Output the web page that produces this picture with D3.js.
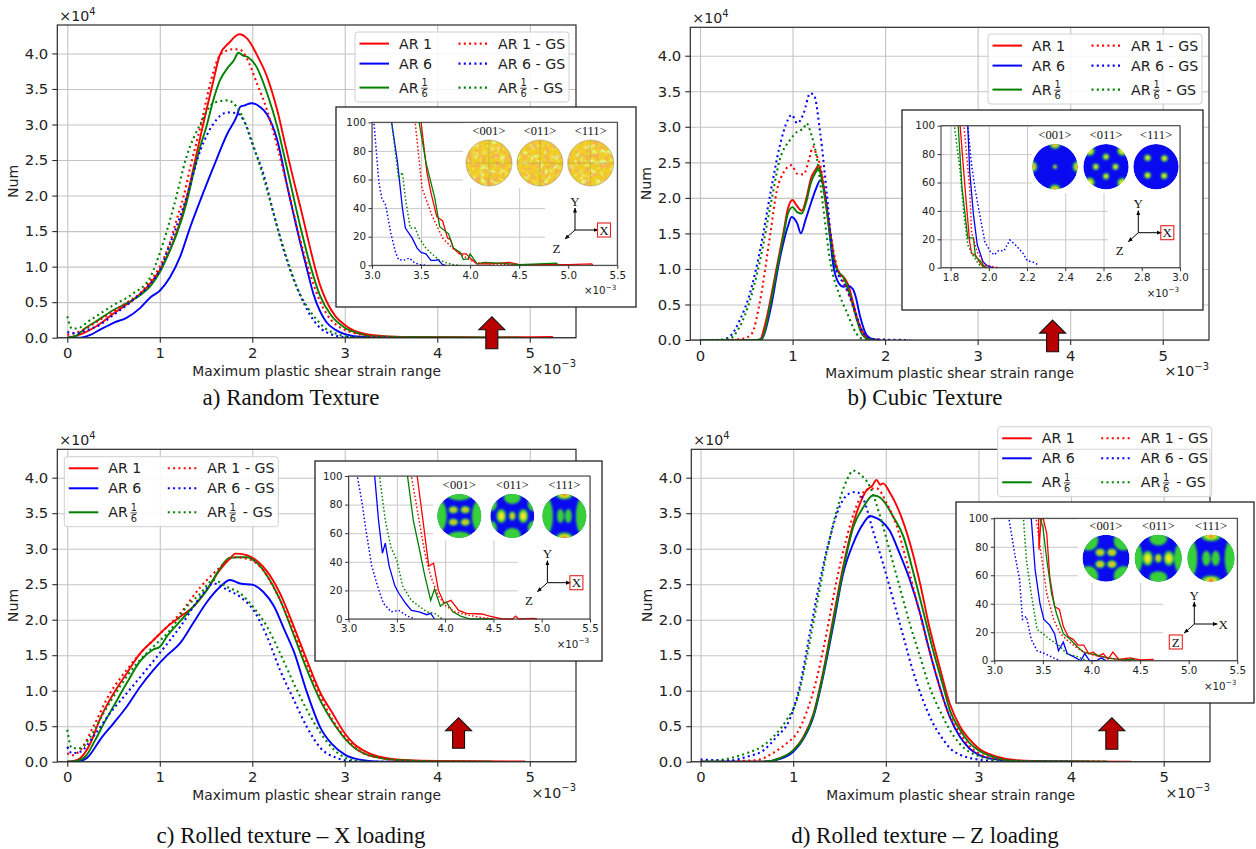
<!DOCTYPE html>
<html>
<head>
<meta charset="utf-8">
<script src="https://cdn.jsdelivr.net/npm/d3@7"></script>
<style>
  body { margin: 0; background: #fff; }
  svg { display: block; }
  svg text { font-family: "DejaVu Sans", sans-serif; fill: #222; }
  svg text.serif { font-family: "Liberation Serif", "DejaVu Serif", serif; fill: #111; }
</style>
</head>
<body>
<svg id="figure" width="1256" height="849"></svg>
<script>
// main plots: x in 1e-3, y in 1e4 ; insets: x in 1e-3, y in counts
const mainXTicks = [0, 1, 2, 3, 4, 5]
const mainYTicks = [0, 0.5, 1, 1.5, 2, 2.5, 3, 3.5, 4]
const insetYTicks = [0, 20, 40, 60, 80, 100]
const insetXTicksHigh = [3, 3.5, 4, 4.5, 5, 5.5]
const insetXTicksLow = [1.8, 2.0, 2.2, 2.4, 2.6, 2.8, 3.0]
const seriesNames = ['AR 1', 'AR 6', 'AR 1/6', 'AR 1 - GS', 'AR 6 - GS', 'AR 1/6 - GS']
const seriesColors = ['#ff0000', '#0000ff', '#008000', '#ff0000', '#0000ff', '#008000']
const poleLabels = ['<001>', '<011>', '<111>']
const captions = ['a) Random Texture', 'b) Cubic Texture', 'c) Rolled texture \u2013 X loading', 'd) Rolled texture \u2013 Z loading']

// a) random texture
const aAR1 = [[0,0],[0.1,0.03],[0.2,0.08],[0.3,0.15],[0.4,0.24],[0.5,0.34],[0.6,0.43],[0.7,0.52],[0.8,0.63],[0.9,0.77],[1.0,0.95],[1.1,1.2],[1.2,1.55],[1.3,2.02],[1.4,2.6],[1.5,3.18],[1.58,3.62],[1.65,3.98],[1.75,4.15],[1.86,4.27],[1.95,4.2],[2.05,3.98],[2.16,3.67],[2.27,3.2],[2.37,2.64],[2.45,2.2],[2.52,1.84],[2.6,1.4],[2.66,1.08],[2.73,0.75],[2.8,0.52],[2.9,0.3],[3.0,0.18],[3.1,0.1],[3.2,0.06],[3.4,0.025],[3.7,0.01],[4.5,0.005],[5.25,0.01]]
const aAR6 = [[0,0],[0.14,0],[0.25,0.04],[0.35,0.11],[0.5,0.21],[0.64,0.28],[0.79,0.42],[0.9,0.57],[1.0,0.66],[1.11,0.85],[1.22,1.14],[1.33,1.56],[1.44,1.94],[1.58,2.4],[1.73,2.87],[1.83,3.11],[1.87,3.25],[1.92,3.27],[1.99,3.3],[2.08,3.25],[2.16,3.14],[2.27,2.78],[2.38,2.12],[2.52,1.33],[2.6,0.92],[2.66,0.62],[2.73,0.38],[2.8,0.22],[2.9,0.11],[3.0,0.05],[3.2,0.01],[3.75,0]]
const aAR16 = [[0,0],[0.1,0.03],[0.17,0.11],[0.3,0.22],[0.5,0.39],[0.65,0.49],[0.79,0.6],[0.9,0.73],[1.0,0.92],[1.1,1.2],[1.18,1.45],[1.29,1.9],[1.37,2.35],[1.44,2.7],[1.5,2.95],[1.58,3.35],[1.65,3.62],[1.73,3.79],[1.8,3.9],[1.85,4.01],[1.9,3.97],[1.95,3.95],[2.05,3.8],[2.16,3.44],[2.27,2.97],[2.38,2.36],[2.52,1.56],[2.62,1.05],[2.73,0.6],[2.85,0.32],[3.0,0.14],[3.15,0.06],[3.3,0.02],[3.6,0.01],[4.9,0]]
const aGS1 = [[0,0.04],[0.17,0.11],[0.35,0.25],[0.5,0.37],[0.65,0.5],[0.79,0.63],[0.9,0.8],[1.0,1.0],[1.1,1.3],[1.18,1.65],[1.26,2.0],[1.33,2.4],[1.44,2.97],[1.55,3.6],[1.62,3.9],[1.69,4.02],[1.8,4.06],[1.87,4.05],[1.94,3.93],[2.05,3.58],[2.16,3.2],[2.27,2.69],[2.38,2.12],[2.52,1.37],[2.6,1.0],[2.66,0.76],[2.73,0.52],[2.8,0.34],[2.9,0.19],[3.0,0.11],[3.15,0.05],[3.3,0.02],[3.6,0.005],[4.45,0]]
const aGS6 = [[0,0.08],[0.1,0.06],[0.2,0.1],[0.35,0.18],[0.5,0.32],[0.71,0.53],[0.9,0.76],[1.0,0.95],[1.09,1.25],[1.18,1.56],[1.29,1.98],[1.44,2.64],[1.58,3.01],[1.73,3.17],[1.83,3.16],[1.91,3.05],[2.01,2.69],[2.12,2.31],[2.23,1.75],[2.34,1.23],[2.45,0.81],[2.56,0.48],[2.66,0.25],[2.74,0.13],[2.85,0.05],[3.0,0.01],[3.5,0]]
const aGS16 = [[0,0.3],[0.05,0.13],[0.1,0.13],[0.25,0.25],[0.5,0.46],[0.71,0.62],[0.9,0.86],[1.0,1.19],[1.15,1.84],[1.29,2.55],[1.44,3.01],[1.58,3.3],[1.73,3.34],[1.83,3.25],[1.94,2.97],[2.05,2.55],[2.16,2.08],[2.27,1.56],[2.38,1.09],[2.48,0.72],[2.59,0.44],[2.7,0.25],[2.8,0.12],[2.9,0.06],[3.0,0.02],[3.3,0],[4.9,0]]

// b) cubic texture
const bAR1 = [[0,0],[0.6,0],[0.65,0.01],[0.7,0.2],[0.76,0.56],[0.83,1.03],[0.9,1.5],[0.95,1.85],[1.0,1.97],[1.04,1.9],[1.1,1.82],[1.15,2.0],[1.2,2.28],[1.25,2.4],[1.28,2.46],[1.31,2.35],[1.36,1.95],[1.41,1.5],[1.45,1.15],[1.5,0.95],[1.55,0.89],[1.6,0.78],[1.65,0.55],[1.7,0.3],[1.77,0.09],[1.84,0.01],[1.95,0]]
const bAR6 = [[0,0],[0.62,0],[0.67,0.02],[0.76,0.42],[0.86,1.13],[0.95,1.6],[0.99,1.73],[1.05,1.64],[1.09,1.5],[1.14,1.69],[1.21,1.97],[1.26,2.15],[1.3,2.25],[1.35,2.06],[1.4,1.5],[1.44,1.05],[1.5,0.8],[1.55,0.75],[1.6,0.76],[1.65,0.72],[1.68,0.62],[1.73,0.33],[1.8,0.07],[1.87,0.01],[1.95,0]]
const bAR16 = [[0,0],[0.62,0],[0.67,0.02],[0.76,0.5],[0.83,0.98],[0.9,1.45],[0.95,1.78],[1.0,1.87],[1.05,1.8],[1.1,1.78],[1.15,1.95],[1.2,2.22],[1.25,2.36],[1.28,2.42],[1.31,2.3],[1.36,1.9],[1.41,1.42],[1.45,1.1],[1.5,0.95],[1.55,0.88],[1.6,0.72],[1.65,0.5],[1.7,0.26],[1.75,0.08],[1.82,0.01],[1.9,0]]
const bGS1 = [[0,0],[0.29,0],[0.47,0.02],[0.56,0.09],[0.65,0.56],[0.76,1.5],[0.83,2.1],[0.9,2.35],[0.99,2.46],[1.05,2.34],[1.12,2.33],[1.18,2.55],[1.22,2.72],[1.26,2.6],[1.31,2.4],[1.36,1.95],[1.41,1.5],[1.48,1.03],[1.55,0.82],[1.59,0.7],[1.69,0.33],[1.77,0.07],[1.85,0.01],[2.05,0]]
const bGS6 = [[0,0],[0.22,0],[0.32,0.05],[0.43,0.28],[0.54,0.66],[0.65,1.27],[0.76,2.06],[0.86,2.72],[0.95,3.1],[0.99,3.17],[1.05,3.05],[1.12,3.19],[1.19,3.47],[1.23,3.45],[1.3,2.9],[1.37,2.06],[1.44,1.13],[1.5,0.9],[1.55,0.8],[1.66,0.47],[1.73,0.19],[1.8,0.05],[1.9,0.01],[2.27,0]]
const bGS16 = [[0,0],[0.14,0],[0.32,0.02],[0.43,0.19],[0.54,0.56],[0.65,1.13],[0.76,1.88],[0.86,2.53],[0.97,2.81],[1.05,2.93],[1.12,2.98],[1.15,3.05],[1.2,2.9],[1.26,2.58],[1.33,1.88],[1.41,1.08],[1.5,0.66],[1.59,0.38],[1.69,0.09],[1.77,0.01],[1.9,0]]

// c) rolled texture, X loading
const cAR1 = [[0,0],[0.07,0.01],[0.14,0.05],[0.25,0.26],[0.35,0.59],[0.5,0.96],[0.64,1.24],[0.79,1.53],[0.93,1.71],[1.08,1.9],[1.22,2.04],[1.36,2.18],[1.51,2.42],[1.65,2.7],[1.75,2.85],[1.82,2.93],[1.94,2.91],[2.05,2.83],[2.16,2.68],[2.3,2.37],[2.45,1.9],[2.59,1.43],[2.74,0.96],[2.86,0.7],[3.0,0.4],[3.1,0.25],[3.2,0.16],[3.3,0.1],[3.46,0.05],[3.7,0.02],[4.0,0.01],[4.95,0.003]]
const cAR6 = [[0,0],[0.1,0],[0.21,0.05],[0.3,0.2],[0.35,0.3],[0.5,0.54],[0.64,0.77],[0.79,1.06],[0.93,1.29],[1.08,1.5],[1.22,1.67],[1.36,1.95],[1.51,2.25],[1.65,2.46],[1.76,2.56],[1.87,2.51],[2.01,2.49],[2.12,2.39],[2.23,2.2],[2.35,1.85],[2.45,1.55],[2.59,0.98],[2.74,0.47],[2.86,0.25],[3.0,0.1],[3.16,0.03],[3.4,0],[3.9,0]]
const cAR16 = [[0,0],[0.1,0.01],[0.2,0.08],[0.3,0.3],[0.4,0.55],[0.5,0.78],[0.64,1.1],[0.79,1.42],[0.93,1.58],[1.0,1.62],[1.08,1.77],[1.22,1.98],[1.36,2.18],[1.51,2.42],[1.65,2.72],[1.75,2.87],[1.85,2.88],[1.94,2.88],[2.05,2.8],[2.16,2.62],[2.3,2.28],[2.45,1.78],[2.59,1.3],[2.74,0.85],[2.86,0.58],[3.0,0.33],[3.1,0.2],[3.2,0.12],[3.35,0.06],[3.6,0.02],[4.0,0.005],[4.6,0]]
const cGS1 = [[0,0.12],[0.05,0.09],[0.14,0.16],[0.28,0.49],[0.46,0.96],[0.64,1.29],[0.82,1.57],[1.0,1.8],[1.22,2.09],[1.44,2.46],[1.62,2.7],[1.8,2.88],[1.94,2.86],[2.09,2.74],[2.23,2.46],[2.38,2.05],[2.52,1.6],[2.66,1.15],[2.8,0.75],[2.9,0.52],[3.0,0.35],[3.1,0.22],[3.2,0.12],[3.4,0.05],[3.7,0.01],[4.5,0]]
const cGS6 = [[0,0.21],[0.05,0.12],[0.14,0.14],[0.28,0.35],[0.46,0.68],[0.64,0.96],[0.82,1.24],[1.0,1.53],[1.22,1.9],[1.44,2.32],[1.58,2.51],[1.73,2.42],[1.87,2.32],[2.01,2.14],[2.16,1.76],[2.3,1.29],[2.45,0.87],[2.59,0.49],[2.74,0.19],[2.9,0.06],[3.0,0.02],[3.2,0],[3.7,0]]
const cGS16 = [[0,0.45],[0.05,0.19],[0.14,0.19],[0.25,0.35],[0.39,0.68],[0.57,1.06],[0.75,1.38],[0.93,1.62],[1.11,1.85],[1.29,2.18],[1.44,2.37],[1.58,2.56],[1.73,2.46],[1.87,2.37],[2.01,2.18],[2.16,1.9],[2.3,1.53],[2.45,1.1],[2.59,0.73],[2.74,0.4],[2.9,0.15],[3.0,0.06],[3.1,0.02],[3.3,0],[3.9,0]]

// d) rolled texture, Z loading
const dAR1 = [[0,0],[0.68,0],[0.86,0.05],[1.0,0.16],[1.11,0.35],[1.22,0.68],[1.32,1.24],[1.43,2.0],[1.54,2.75],[1.65,3.36],[1.72,3.63],[1.79,3.82],[1.85,3.88],[1.9,3.97],[1.94,3.9],[1.97,3.92],[2.04,3.8],[2.14,3.54],[2.26,3.08],[2.37,2.51],[2.47,1.9],[2.58,1.34],[2.69,0.82],[2.8,0.5],[2.9,0.32],[3.0,0.19],[3.2,0.07],[3.41,0.02],[3.8,0.005],[4.65,0]]
const dAR6 = [[0,0],[0.68,0],[0.86,0.04],[1.0,0.14],[1.11,0.32],[1.22,0.64],[1.32,1.18],[1.43,1.9],[1.54,2.65],[1.65,3.08],[1.76,3.36],[1.83,3.46],[1.9,3.43],[1.94,3.4],[2.04,3.26],[2.15,2.93],[2.26,2.56],[2.37,2.09],[2.47,1.57],[2.58,1.06],[2.69,0.63],[2.8,0.35],[2.9,0.19],[3.0,0.1],[3.2,0.03],[3.4,0.01],[4.2,0]]
const dAR16 = [[0,0],[0.68,0],[0.86,0.05],[1.0,0.16],[1.11,0.33],[1.22,0.66],[1.32,1.2],[1.43,1.95],[1.54,2.7],[1.65,3.31],[1.76,3.59],[1.86,3.75],[1.91,3.74],[1.97,3.68],[2.08,3.45],[2.19,3.17],[2.29,2.7],[2.4,2.14],[2.51,1.57],[2.62,1.06],[2.69,0.73],[2.8,0.45],[2.9,0.27],[3.0,0.16],[3.2,0.05],[3.4,0.01],[4.4,0]]
const dGS1 = [[0,0],[0.6,0.02],[0.78,0.12],[0.93,0.26],[1.04,0.4],[1.14,0.68],[1.25,1.15],[1.36,1.81],[1.47,2.56],[1.58,3.17],[1.68,3.59],[1.79,3.83],[1.9,3.85],[2.01,3.64],[2.12,3.31],[2.22,2.84],[2.33,2.28],[2.44,1.71],[2.55,1.2],[2.65,0.77],[2.8,0.4],[2.9,0.22],[3.0,0.12],[3.2,0.04],[3.5,0.01],[4.4,0]]
const dGS6 = [[0,0.03],[0.32,0.02],[0.5,0.07],[0.68,0.16],[0.82,0.35],[0.96,0.59],[1.07,1.06],[1.18,1.81],[1.29,2.56],[1.4,3.17],[1.5,3.59],[1.61,3.78],[1.68,3.8],[1.76,3.69],[1.86,3.26],[1.97,2.79],[2.08,2.28],[2.19,1.76],[2.29,1.29],[2.4,0.87],[2.51,0.54],[2.62,0.31],[2.7,0.18],[2.8,0.1],[3.0,0.03],[3.3,0],[4.0,0]]
const dGS16 = [[0,0],[0.32,0.05],[0.5,0.12],[0.68,0.23],[0.82,0.4],[0.93,0.59],[1.04,0.87],[1.14,1.43],[1.25,2.18],[1.36,2.93],[1.47,3.54],[1.58,3.97],[1.65,4.1],[1.72,4.05],[1.83,3.87],[1.94,3.45],[2.04,2.98],[2.15,2.46],[2.26,1.94],[2.37,1.48],[2.47,1.06],[2.58,0.73],[2.69,0.45],[2.8,0.25],[2.9,0.14],[3.0,0.08],[3.2,0.02],[3.5,0],[4.4,0]]

// insets (tails, counts 0-100)
const iaAR1 = [[3.48,130],[3.5,100],[3.56,65],[3.6,51],[3.66,34],[3.72,31],[3.77,19],[3.8,18],[3.83,12],[3.89,8],[3.96,8],[4.0,5],[4.07,1],[4.2,1],[4.4,2],[4.5,0.5],[5.0,0.5],[5.24,1],[5.25,0]]
const iaAR6 = [[3.18,130],[3.2,100],[3.26,72],[3.31,40],[3.34,26],[3.41,19],[3.46,12],[3.5,9],[3.55,8],[3.6,3.5],[3.65,3.5],[3.67,4],[3.72,0.5],[3.75,0]]
const iaAR16 = [[3.46,130],[3.48,100],[3.55,72],[3.6,58],[3.64,47],[3.69,27],[3.78,22],[3.83,12],[3.9,9],[3.93,4],[3.98,4.5],[4.0,8],[4.07,1],[4.15,2],[4.5,0.5],[4.88,1.5],[4.9,0]]
const iaGS1 = [[3.42,130],[3.44,100],[3.51,54],[3.61,35],[3.72,19],[3.82,12],[3.94,6],[4.05,2],[4.2,1],[4.45,0.5]]
const iaGS6 = [[3.0,130],[3.02,100],[3.07,58],[3.1,47],[3.14,42],[3.19,23],[3.24,9],[3.27,4],[3.32,3.5],[3.38,5],[3.43,2],[3.48,0.5],[3.55,0]]
const iaGS16 = [[3.18,130],[3.2,100],[3.27,61],[3.31,65],[3.34,47],[3.39,26],[3.44,26],[3.48,19],[3.55,12],[3.61,8],[3.68,4],[3.75,2],[3.82,0.5],[3.9,0]]

const ibAR1 = [[1.84,130],[1.85,100],[1.88,49],[1.9,18],[1.91,10],[1.93,9],[1.96,2],[1.99,0]]
const ibAR6 = [[1.88,130],[1.89,100],[1.9,68],[1.92,37],[1.94,16],[1.97,4],[1.99,1.5],[2.02,0]]
const ibAR16 = [[1.83,130],[1.84,100],[1.86,56],[1.89,21],[1.92,21],[1.93,8],[1.96,4],[1.98,0]]
const ibGS1 = [[1.86,130],[1.87,100],[1.9,56],[1.91,25],[1.94,11],[1.98,2],[2.05,0]]
const ibGS6 = [[1.88,130],[1.89,100],[1.91,72],[1.93,54],[1.96,32],[1.98,18],[2.01,11],[2.03,9],[2.05,12],[2.08,12],[2.1,17],[2.11,19.5],[2.14,16],[2.18,10],[2.2,5],[2.23,4],[2.26,2]]
const ibGS16 = [[1.81,130],[1.82,100],[1.85,68],[1.87,37],[1.89,16],[1.92,8],[1.95,2],[1.98,0]]

const icAR1 = [[3.7,130],[3.71,100],[3.77,69],[3.83,37],[3.88,39],[3.93,20],[3.99,11],[4.06,13],[4.14,6],[4.22,4],[4.38,3.5],[4.46,2],[4.59,0],[4.7,0],[4.73,2],[4.76,0],[4.92,0.5],[4.95,0]]
const icAR6 = [[3.26,130],[3.27,100],[3.31,69],[3.35,46],[3.38,53],[3.42,37],[3.48,23],[3.52,18],[3.59,11],[3.65,6],[3.73,5],[3.81,3],[3.85,4],[3.89,0]]
const icAR16 = [[3.6,130],[3.61,100],[3.67,69],[3.73,50],[3.79,30],[3.85,13],[3.89,21],[3.95,9],[4.01,12],[4.08,5],[4.16,2],[4.26,0],[4.5,0]]
const icGS1 = [[3.64,130],[3.65,100],[3.73,69],[3.79,46],[3.85,30],[3.93,16],[4.01,9],[4.1,5],[4.22,3],[4.38,1],[4.5,0]]
const icGS6 = [[3.07,130],[3.09,100],[3.14,81],[3.18,62],[3.24,37],[3.3,23],[3.36,11],[3.44,5],[3.52,6],[3.61,2],[3.69,0]]
const icGS16 = [[3.3,130],[3.32,100],[3.38,69],[3.44,50],[3.5,41],[3.56,23],[3.65,13],[3.73,9],[3.81,5],[3.89,4],[3.97,0]]

const idAR1 = [[3.45,130],[3.46,78],[3.48,98],[3.5,101],[3.54,89],[3.57,59],[3.62,38],[3.67,36],[3.71,24],[3.76,17],[3.81,15],[3.86,11],[3.92,11],[3.97,5],[4.02,6],[4.07,3],[4.12,5],[4.17,1],[4.22,6],[4.28,1],[4.4,2],[4.5,0.5],[4.64,1]]
const idAR6 = [[3.37,130],[3.38,100],[3.42,64],[3.47,40],[3.51,29],[3.57,25],[3.62,19],[3.66,7],[3.71,13],[3.75,5],[3.81,3],[3.89,0],[3.93,5],[3.98,0],[4.05,0],[4.1,2],[4.15,0]]
const idAR16 = [[3.46,130],[3.47,100],[3.5,94],[3.54,71],[3.59,47],[3.64,33],[3.71,19],[3.78,15],[3.85,10],[3.92,6],[3.98,5],[4.05,4],[4.16,2],[4.33,0.5],[4.43,1],[4.45,0]]
const idGS1 = [[3.42,130],[3.43,100],[3.49,71],[3.54,47],[3.61,29],[3.68,19],[3.74,15],[3.83,10],[3.92,6],[4.02,4],[4.16,2],[4.33,0.5],[4.4,0]]
const idGS6 = [[3.13,130],[3.15,100],[3.21,75],[3.26,57],[3.29,29],[3.33,31],[3.38,15],[3.44,7],[3.52,5],[3.61,2],[3.68,0]]
const idGS16 = [[3.29,130],[3.3,100],[3.33,71],[3.38,47],[3.44,22],[3.5,19],[3.57,15],[3.68,10],[3.74,5],[3.85,3],[3.95,0]]

// pole figure spots: [dx, dy, rx, ry, level] in units of the disc radius
const cubicPoles = [
  [[0,0,0.1,0.1,3],[0,-1,0.24,0.22,3],[0,1,0.24,0.22,3],[-1,0,0.22,0.24,3],[1,0,0.22,0.24,3]],
  [[0,-0.44,0.14,0.14,2],[0.42,0,0.14,0.14,2],[-0.45,0,0.14,0.14,2],[0,0.42,0.14,0.14,2],[-0.72,-0.7,0.22,0.22,2],[0.72,-0.7,0.22,0.22,2],[-0.72,0.7,0.22,0.22,2],[0.72,0.72,0.22,0.22,2]],
  [[-0.37,-0.39,0.15,0.15,2],[0.37,-0.37,0.15,0.15,2],[-0.37,0.38,0.15,0.15,2],[0.36,0.4,0.15,0.15,2]]
]
const rolledXPoles = [
  [[-0.95,0,0.38,0.75,1],[0.95,0,0.38,0.75,1],[0,-0.97,0.55,0.26,1],[0,0.97,0.55,0.26,1],[-0.27,-0.28,0.22,0.17,3],[0.27,-0.28,0.22,0.17,3],[-0.27,0.28,0.22,0.17,3],[0.27,0.28,0.22,0.17,3]],
  [[0,0,0.15,0.2,3],[-0.5,0,0.22,0.32,2],[0.5,0,0.22,0.32,2],[0,-0.85,0.38,0.3,1],[0,0.85,0.38,0.3,1],[-0.95,-0.55,0.25,0.32,1],[0.95,-0.55,0.25,0.32,1],[-0.95,0.55,0.25,0.32,1],[0.95,0.55,0.25,0.32,1]],
  [[-0.92,0,0.4,0.95,1],[0.92,0,0.4,0.95,1],[-0.18,0,0.16,0.32,1],[0.18,0,0.16,0.32,1],[0,-0.97,0.38,0.22,3],[0,0.97,0.38,0.22,3]]
]
const rolledZPoles = [
  [[-0.75,-0.75,0.42,0.42,1],[0.75,-0.75,0.42,0.42,1],[-0.75,0.75,0.42,0.42,1],[0.75,0.75,0.42,0.42,1],[-0.25,-0.25,0.21,0.17,3],[0.25,-0.25,0.21,0.17,3],[-0.25,0.25,0.21,0.17,3],[0.25,0.25,0.21,0.17,3]],
  [[0,0,0.15,0.19,3],[-0.45,0,0.22,0.32,2],[0.45,0,0.22,0.32,2],[0,-0.82,0.38,0.27,1],[0,0.82,0.38,0.27,1],[-0.95,0,0.28,0.65,1],[0.95,0,0.28,0.65,1]],
  [[-0.92,0,0.34,0.85,1],[0.92,0,0.34,0.85,1],[-0.2,0,0.18,0.32,1],[0.2,0,0.18,0.32,1],[0,-0.95,0.42,0.22,3],[0,0.95,0.42,0.22,3]]
]

// layout of the four panels (pixels)
const panels = [
  {key: 'a', main: [aAR1, aAR6, aAR16, aGS1, aGS6, aGS16], tail: [iaAR1, iaAR6, iaAR16, iaGS1, iaGS6, iaGS16],
   left: 57.3, right: 576, top: 25, bottom: 337.7, xmin: -0.108, legend: [355, 32], arrow: [4.59, 0.295, 32], cap: [291, 405], tex: 'random',
   box: [336, 107, 300, 200], ax: [372, 122.3, 617.3, 265.3], xdom: [3, 5.5], xt: insetXTicksHigh,
   poleX: [489, 540, 590.7], poleY: 163, r: 23, poleRect: [463, 122.8, 154, 65.5], triRect: [545, 188, 72, 76.5], tri: [575, 230], boxed: 'X'},
  {key: 'b', main: [bAR1, bAR6, bAR16, bGS1, bGS6, bGS16], tail: [ibAR1, ibAR6, ibAR16, ibGS1, ibGS6, ibGS16],
   left: 690.3, right: 1209, top: 27.3, bottom: 340, xmin: -0.105, legend: [988, 34], arrow: [3.81, 0.28, 31.7], cap: [925, 405], tex: cubicPoles,
   box: [902, 110, 301, 200], ax: [941, 125.7, 1180, 267.7], xdom: [1.75, 3.0], xt: insetXTicksLow,
   poleX: [1055, 1106, 1156], poleY: 166.7, r: 22.7, poleRect: [1032, 126.2, 148, 67], triRect: [1108, 193, 72, 74.5], tri: [1138.3, 232.7], boxed: 'X'},
  {key: 'c', main: [cAR1, cAR6, cAR16, cGS1, cGS6, cGS16], tail: [icAR1, icAR6, icAR16, icGS1, icGS6, icGS16],
   left: 57.3, right: 576, top: 449.3, bottom: 761.7, xmin: -0.108, legend: [64.3, 456.7], arrow: [4.23, 0.62, 30.6], cap: [291, 843], tex: rolledXPoles,
   box: [315, 461, 287, 200], ax: [348.6, 476, 590, 619], xdom: [3, 5.5], xt: insetXTicksHigh,
   poleX: [459.3, 512.3, 564.4], poleY: 516, r: 22, poleRect: [433, 476.5, 157, 64], triRect: [518, 540, 72, 78.5], tri: [547.4, 582.7], boxed: 'X'},
  {key: 'd', main: [dAR1, dAR6, dAR16, dGS1, dGS6, dGS16], tail: [idAR1, idAR6, idAR16, idGS1, idGS6, idGS16],
   left: 691.3, right: 1210, top: 449.3, bottom: 761.7, xmin: -0.1, legend: [997.7, 426.7], arrow: [4.44, 0.62, 31.6], cap: [925, 843], tex: rolledZPoles,
   box: [956, 502, 298, 201], ax: [994.3, 518.3, 1237.3, 660.7], xdom: [3, 5.5], xt: insetXTicksHigh,
   poleX: [1106, 1158.3, 1211], poleY: 558.3, r: 23.5, poleRect: [1078, 518.8, 159, 64], triRect: [1163, 583, 74, 77.5], tri: [1194.3, 624], boxed: 'Z'}
]

const fig = d3.select('#figure')
const defs = fig.append('defs')
const FS = 14.2

// arrow head for the small xyz triads
defs.append('marker').attr('id', 'tip').attr('viewBox', '0 0 10 10').attr('refX', 9).attr('refY', 5)
  .attr('markerWidth', 5).attr('markerHeight', 5).attr('orient', 'auto')
  .append('path').attr('d', 'M0,1L10,5L0,9z').attr('fill', '#000')

defs.append('filter').attr('id', 'soft').attr('x', -0.5).attr('y', -0.5).attr('width', 2).attr('height', 2)
  .append('feGaussianBlur').attr('stdDeviation', 1.1)

// speckle filters for the random texture discs
function noiseFilter(id, seed, rgb, freq, gain, cut) {
  let f = defs.append('filter').attr('id', id).attr('x', 0).attr('y', 0).attr('width', 1).attr('height', 1)
  f.append('feTurbulence').attr('type', 'fractalNoise').attr('baseFrequency', freq).attr('numOctaves', 2).attr('seed', seed).attr('result', 'n')
  f.append('feColorMatrix').attr('in', 'n').attr('type', 'matrix')
    .attr('values', `0 0 0 0 ${rgb[0]} 0 0 0 0 ${rgb[1]} 0 0 0 0 ${rgb[2]} ${gain} 0 0 0 ${cut}`).attr('result', 'c')
  f.append('feComposite').attr('in', 'c').attr('in2', 'SourceGraphic').attr('operator', 'in')
}
noiseFilter('speckO', 4, [0.92, 0.42, 0.1], 0.22, 4.2, -2.0)
noiseFilter('speckG', 11, [0.75, 0.92, 0.25], 0.2, 4.2, -2.1)

function superText(g, x, y, base, sup, size, anchor) {
  let t = g.append('text').attr('x', x).attr('y', y).attr('font-size', size).attr('text-anchor', anchor || 'start')
  t.append('tspan').text(base)
  t.append('tspan').attr('dy', -size * 0.45).attr('font-size', size * 0.7).text(sup)
}

function drawLabel(g, text, x, y) {
  if (text.includes('1/6')) {
    let parts = text.split('1/6')
    g.append('text').attr('x', x).attr('y', y).attr('dy', '0.36em').attr('font-size', FS).text(parts[0].trim())
    let fx = x + 25.5
    g.append('text').attr('x', fx).attr('y', y - 1.3).attr('text-anchor', 'middle').attr('font-size', 9.8).text('1')
    g.append('text').attr('x', fx).attr('y', y + 9.2).attr('text-anchor', 'middle').attr('font-size', 9.8).text('6')
    g.append('line').attr('x1', fx - 3.3).attr('x2', fx + 3.3).attr('y1', y + 0.6).attr('y2', y + 0.6).attr('stroke', '#222').attr('stroke-width', 0.8)
    if (parts[1].trim()) g.append('text').attr('x', x + 35.5).attr('y', y).attr('dy', '0.36em').attr('font-size', FS).text(parts[1].trim())
  } else {
    g.append('text').attr('x', x).attr('y', y).attr('dy', '0.36em').attr('font-size', FS).text(text)
  }
}

function drawLegend(g, lx, ly) {
  g.append('rect').attr('x', lx).attr('y', ly).attr('width', 214).attr('height', 70).attr('rx', 3)
    .attr('fill', '#fff').attr('fill-opacity', 0.85).attr('stroke', '#d0d0d0').attr('stroke-width', 1)
  let rowY = [11.6, 31.6, 55.6]
  seriesNames.forEach((name, i) => {
    let col = Math.floor(i / 3), row = i % 3
    let x0 = lx + (col ? 103.5 : 4.5), yy = ly + rowY[row]
    g.append('line').attr('x1', x0).attr('x2', x0 + 29.5).attr('y1', yy).attr('y2', yy)
      .attr('stroke', seriesColors[i]).attr('stroke-width', i < 3 ? 2 : 2.1)
      .attr('stroke-dasharray', i < 3 ? null : '2,3.3')
    drawLabel(g, name, x0 + 39.5, yy)
  })
}

function drawPole(g, id, cx, cy, r, spec) {
  let clipId = 'pole-' + id
  defs.append('clipPath').attr('id', clipId).append('circle').attr('cx', cx).attr('cy', cy).attr('r', r)
  let pg = g.append('g').attr('clip-path', `url(#${clipId})`)
  if (spec === 'random') {
    pg.append('circle').attr('cx', cx).attr('cy', cy).attr('r', r).attr('fill', '#f0cf22')
    pg.append('circle').attr('cx', cx).attr('cy', cy).attr('r', r).attr('fill', '#000').attr('filter', 'url(#speckG)')
    pg.append('circle').attr('cx', cx).attr('cy', cy).attr('r', r).attr('fill', '#000').attr('filter', 'url(#speckO)')
    pg.append('line').attr('x1', cx - r).attr('x2', cx + r).attr('y1', cy).attr('y2', cy).attr('stroke', '#8a7a40').attr('stroke-width', 0.6).attr('opacity', 0.5)
    pg.append('line').attr('x1', cx).attr('x2', cx).attr('y1', cy - r).attr('y2', cy + r).attr('stroke', '#8a7a40').attr('stroke-width', 0.6).attr('opacity', 0.5)
    g.append('circle').attr('cx', cx).attr('cy', cy).attr('r', r).attr('fill', 'none').attr('stroke', '#a09050').attr('stroke-width', 0.6)
    return
  }
  pg.append('circle').attr('cx', cx).attr('cy', cy).attr('r', r).attr('fill', '#0a0af0')
  let bg = pg.append('g').attr('filter', 'url(#soft)')
  let layers = [[1, '#38d038'], [0.55, '#f0ec1c'], [0.25, '#f02c10']]
  layers.forEach((ly, k) => {
    bg.selectAll(null).data(spec.filter(s => s[4] > k)).join('ellipse')
      .attr('cx', s => cx + s[0] * r).attr('cy', s => cy + s[1] * r)
      .attr('rx', s => s[2] * r * ly[0]).attr('ry', s => s[3] * r * ly[0])
      .attr('fill', ly[1])
  })
}

function drawTriad(g, ox, oy, boxed) {
  let ends = {X: [ox + 23, oy], Y: [ox, oy - 22], Z: [ox - 10, oy + 9]}
  let labelPos = {X: [ox + 29, oy], Y: [ox, oy - 29], Z: [ox - 18.5, oy + 18]}
  Object.keys(ends).forEach(k => {
    g.append('line').attr('x1', ox).attr('y1', oy).attr('x2', ends[k][0]).attr('y2', ends[k][1])
      .attr('stroke', '#000').attr('stroke-width', 1).attr('marker-end', 'url(#tip)')
    g.append('text').attr('class', 'serif').attr('x', labelPos[k][0]).attr('y', labelPos[k][1]).attr('dy', '0.35em')
      .attr('text-anchor', 'middle').attr('font-size', 13).text(k)
    if (k === boxed) {
      g.append('rect').attr('x', labelPos[k][0] - 6.5).attr('y', labelPos[k][1] - 7).attr('width', 13).attr('height', 14)
        .attr('fill', 'none').attr('stroke', '#e82020').attr('stroke-width', 1.1)
    }
  })
}

function drawInset(p) {
  let g = fig.append('g')
  let [bx, by, bw, bh] = p.box
  g.append('rect').attr('x', bx).attr('y', by).attr('width', bw).attr('height', bh)
    .attr('fill', '#fff').attr('stroke', '#222').attr('stroke-width', 1.3)
  let [x0, y0, x1, y1] = p.ax
  let xi = d3.scaleLinear().domain(p.xdom).range([x0, x1])
  let yi = d3.scaleLinear().domain([0, 100]).range([y1, y0])

  // grid
  g.append('g').attr('transform', `translate(0,${y1})`)
    .call(d3.axisBottom(xi).tickValues(p.xt).tickSize(-(y1 - y0)).tickFormat(''))
    .call(a => a.select('.domain').remove())
    .selectAll('line').attr('stroke', '#c8c8c8').attr('stroke-width', 1)
  g.append('g').attr('transform', `translate(${x0},0)`)
    .call(d3.axisLeft(yi).tickValues(insetYTicks).tickSize(-(x1 - x0)).tickFormat(''))
    .call(a => a.select('.domain').remove())
    .selectAll('line').attr('stroke', '#c8c8c8').attr('stroke-width', 1)

  // pole figure image and triad sit on white patches
  ;[p.poleRect, p.triRect].forEach(rc => {
    g.append('rect').attr('x', rc[0]).attr('y', rc[1]).attr('width', rc[2]).attr('height', rc[3]).attr('fill', '#fff')
  })

  let clipId = 'inset-' + p.key
  defs.append('clipPath').attr('id', clipId).append('rect').attr('x', x0).attr('y', y0).attr('width', x1 - x0).attr('height', y1 - y0 + 1)
  let line = d3.line().x(d => xi(d[0])).y(d => yi(d[1]))
  g.append('g').attr('clip-path', `url(#${clipId})`)
    .selectAll('path').data(p.tail).join('path')
    .attr('d', line).attr('fill', 'none')
    .attr('stroke', (d, i) => seriesColors[i])
    .attr('stroke-width', (d, i) => i < 3 ? 1.3 : 1.5)
    .attr('stroke-dasharray', (d, i) => i < 3 ? null : '1.5,2.2')

  g.append('rect').attr('x', x0).attr('y', y0).attr('width', x1 - x0).attr('height', y1 - y0)
    .attr('fill', 'none').attr('stroke', '#333').attr('stroke-width', 1)

  let fmt = d3.format('.1f')
  let ax = g.append('g').attr('transform', `translate(0,${y1})`)
    .call(d3.axisBottom(xi).tickValues(p.xt).tickSize(3.5).tickPadding(2.5).tickFormat(fmt))
  let ay = g.append('g').attr('transform', `translate(${x0},0)`)
    .call(d3.axisLeft(yi).tickValues(insetYTicks).tickSize(3.5).tickPadding(2.5).tickFormat(d3.format('d')))
  ;[ax, ay].forEach(a => {
    a.select('.domain').remove()
    a.selectAll('line').attr('stroke', '#333')
    a.selectAll('text').attr('font-size', 10.3).attr('font-family', '"DejaVu Sans", sans-serif').attr('fill', '#222')
  })
  superText(g, x1 - 1, y1 + 29, '\u00d710', '\u22123', 10.3, 'end')

  // pole figures
  let tex = p.tex
  p.poleX.forEach((cx, i) => {
    g.append('text').attr('class', 'serif').attr('x', cx).attr('y', p.poleY - p.r - 5)
      .attr('text-anchor', 'middle').attr('font-size', 12.5).text(poleLabels[i])
    drawPole(g, p.key + i, cx, p.poleY, p.r, tex === 'random' ? 'random' : tex[i])
  })
  drawTriad(g, p.tri[0], p.tri[1], p.boxed)
}

function drawPanel(p, idx) {
  let g = fig.append('g')
  let x = d3.scaleLinear().domain([p.xmin, 5.5]).range([p.left, p.right])
  let y = d3.scaleLinear().domain([0, 4.4]).range([p.bottom, p.top])
  let w = p.right - p.left, h = p.bottom - p.top

  // grid
  g.append('g').attr('transform', `translate(0,${p.bottom})`)
    .call(d3.axisBottom(x).tickValues(mainXTicks).tickSize(-h).tickFormat(''))
    .call(a => a.select('.domain').remove())
    .selectAll('line').attr('stroke', '#c4c4c4').attr('stroke-width', 1.1)
  g.append('g').attr('transform', `translate(${p.left},0)`)
    .call(d3.axisLeft(y).tickValues(mainYTicks).tickSize(-w).tickFormat(''))
    .call(a => a.select('.domain').remove())
    .selectAll('line').attr('stroke', '#c4c4c4').attr('stroke-width', 1.1)

  // curves
  let clipId = 'main-' + p.key
  defs.append('clipPath').attr('id', clipId).append('rect').attr('x', p.left).attr('y', p.top).attr('width', w).attr('height', h)
  let line = d3.line().x(d => x(d[0])).y(d => y(d[1])).curve(d3.curveMonotoneX)
  g.append('g').attr('clip-path', `url(#${clipId})`)
    .selectAll('path').data(p.main).join('path')
    .attr('d', line).attr('fill', 'none')
    .attr('stroke', (d, i) => seriesColors[i])
    .attr('stroke-width', (d, i) => i < 3 ? 1.9 : 2.1)
    .attr('stroke-dasharray', (d, i) => i < 3 ? null : '2,3.3')

  // frame
  g.append('rect').attr('x', p.left).attr('y', p.top).attr('width', w).attr('height', h)
    .attr('fill', 'none').attr('stroke', '#2a2a2a').attr('stroke-width', 1.2)

  // ticks
  let ax = g.append('g').attr('transform', `translate(0,${p.bottom})`)
    .call(d3.axisBottom(x).tickValues(mainXTicks).tickSize(5).tickPadding(5).tickFormat(d3.format('d')))
  let ay = g.append('g').attr('transform', `translate(${p.left},0)`)
    .call(d3.axisLeft(y).tickValues(mainYTicks).tickSize(5).tickPadding(4).tickFormat(d3.format('.1f')))
  ;[ax, ay].forEach(a => {
    a.select('.domain').remove()
    a.selectAll('line').attr('stroke', '#2a2a2a').attr('stroke-width', 1.1)
    a.selectAll('text').attr('font-size', FS + 0.6).attr('font-family', '"DejaVu Sans", sans-serif').attr('fill', '#222')
  })

  // axis labels and offset text
  g.append('text').attr('x', (p.left + p.right) / 2).attr('y', p.bottom + 38).attr('text-anchor', 'middle')
    .attr('font-size', 13.8).text('Maximum plastic shear strain range')
  g.append('text').attr('transform', `translate(${p.left - 44},${(p.top + p.bottom) / 2}) rotate(-90)`)
    .attr('text-anchor', 'middle').attr('dy', '0.35em').attr('font-size', FS).text('Num')
  superText(g, p.left + 2, p.top - 4, '\u00d710', '4', FS)
  superText(g, p.right, p.bottom + 36, '\u00d710', '\u22123', FS, 'end')

  drawLegend(g, p.legend[0], p.legend[1])
  drawInset(p)

  // red arrow pointing at the tail region
  let ag = fig.append('g')
  let tx = x(p.arrow[0]), ty = y(p.arrow[1]), ah = p.arrow[2]
  let shape = [[0, 0], [13, 13], [6, 13], [6, ah], [-6, ah], [-6, 13], [-13, 13]]
  ag.append('path').attr('d', d3.line()(shape.map(s => [tx + s[0], ty + s[1]])) + 'Z')
    .attr('fill', '#b80000').attr('stroke', '#111').attr('stroke-width', 1.1)

  fig.append('text').attr('class', 'serif').attr('x', p.cap[0]).attr('y', p.cap[1])
    .attr('text-anchor', 'middle').attr('font-size', 23).text(captions[idx])
}

panels.forEach((p, i) => drawPanel(p, i))
</script>
</body>
</html>
